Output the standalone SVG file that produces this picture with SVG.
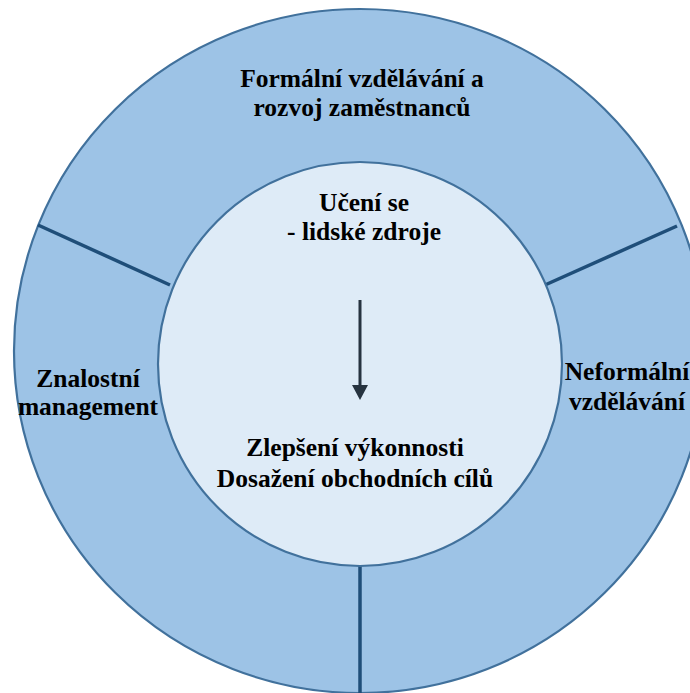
<svg xmlns="http://www.w3.org/2000/svg" width="690" height="693" viewBox="0 0 690 693">
  <defs>
    <style>
      .ring { fill: #9DC3E6; stroke: #41719C; stroke-width: 2.2; }
      .core { fill: #DEEBF7; stroke: #41719C; stroke-width: 2.2; }
      .div { stroke: #1F4E79; stroke-width: 3.5; fill: none; }
      .lbl { font-weight: bold; font-size: 25.5px; fill: #000; text-anchor: middle; }
      .arr { stroke: #263340; stroke-width: 3; fill: none; }
    </style>
  </defs>
  <rect width="690" height="693" fill="#FFFFFF"/>

  <g id="ring">
    <ellipse class="ring" cx="360" cy="351" rx="346" ry="342"/>
  </g>

  <g id="dividers">
    <line class="div" x1="38" y1="225" x2="170" y2="285"/>
    <line class="div" x1="545" y1="285" x2="677" y2="226"/>
    <line class="div" x1="360" y1="566" x2="360" y2="700"/>
  </g>

  <g font-family="'Liberation Serif', 'DejaVu Serif', serif">
    <g id="node-formal">
      <text class="lbl" x="362" y="87">Formální vzdělávání a</text>
      <text class="lbl" x="362" y="116">rozvoj zaměstnanců</text>
    </g>

    <g id="node-znalostni">
      <text class="lbl" x="88" y="387">Znalostní</text>
      <text class="lbl" x="88" y="415">management</text>
    </g>

    <g id="node-neformalni">
      <text class="lbl" x="627" y="380">Neformální</text>
      <text class="lbl" x="627" y="410">vzdělávání</text>
    </g>

    <g id="node-core">
      <circle class="core" cx="360" cy="364" r="202"/>
      <text class="lbl" x="364" y="211">Učení se</text>
      <text class="lbl" x="364" y="240">- lidské zdroje</text>
      <text class="lbl" x="355" y="456">Zlepšení výkonnosti</text>
      <text class="lbl" x="355" y="487">Dosažení obchodních cílů</text>
    </g>
  </g>

  <g id="connectors">
    <line class="arr" x1="360" y1="300" x2="360" y2="386"/>
    <path d="M352,385 L368,385 L360,400 Z" fill="#263340"/>
  </g>
</svg>
